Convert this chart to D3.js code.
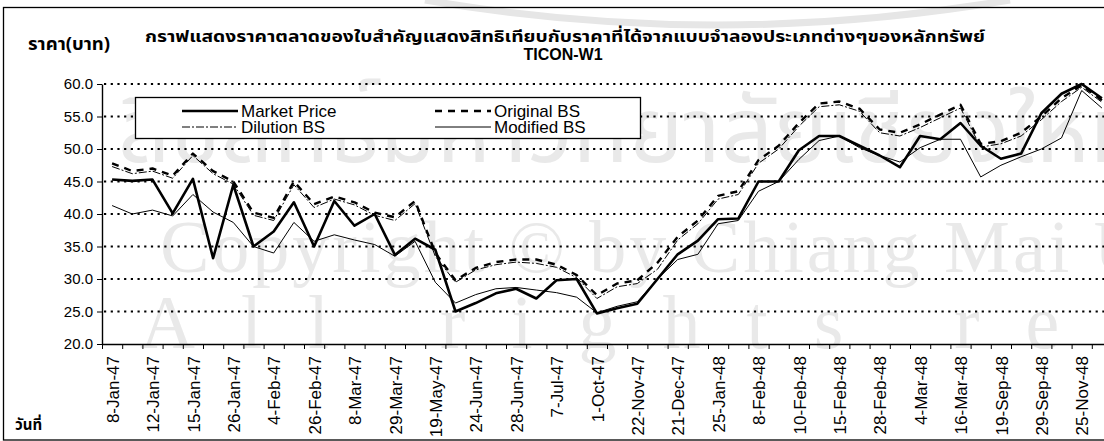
<!DOCTYPE html>
<html>
<head>
<meta charset="utf-8">
<script src="https://cdn.jsdelivr.net/npm/d3@7"></script>
<style>
  body { margin: 0; background: #fff; }
  svg { display: block; font-family: "Liberation Sans", Arial, sans-serif; }
</style>
</head>
<body>
<div id="chart"></div>
<script>
// tick labels, one per two categories
const dateLabels = ["8-Jan-47", "12-Jan-47", "15-Jan-47", "26-Jan-47", "4-Feb-47", "26-Feb-47",
    "8-Mar-47", "29-Mar-47", "19-May-47", "24-Jun-47", "28-Jun-47", "7-Jul-47", "1-Oct-47",
    "22-Nov-47", "21-Dec-47", "25-Jan-48", "8-Feb-48", "10-Feb-48", "15-Feb-48", "28-Feb-48",
    "4-Mar-48", "16-Mar-48", "19-Sep-48", "29-Sep-48", "25-Nov-48"];

const marketPrice = [45.3, 45.1, 45.3, 40.1, 45.4, 33.2, 44.5, 35.0, 37.3, 41.8,
    35.0, 42.0, 38.2, 40.0, 33.7, 36.2, 34.5, 25.0, 26.3, 27.8,
    28.5, 27.0, 29.8, 30.0, 24.7, 25.5, 26.2, 30.0, 33.8, 35.9,
    39.2, 39.3, 45.0, 45.0, 49.8, 52.0, 52.0, 50.5, 49.0, 47.2,
    52.0, 51.5, 54.0, 50.5, 48.5, 49.3, 55.5, 58.5, 60.0, 57.8];

const originalBS = [47.8, 46.6, 47.0, 45.9, 49.3, 46.6, 45.0, 40.2, 39.4, 45.0,
    41.5, 42.7, 41.8, 40.2, 39.5, 42.0, 34.0, 29.8, 31.7, 32.6,
    33.0, 33.0, 32.2, 30.6, 27.5, 29.3, 29.8, 32.5, 36.5, 39.0,
    42.8, 43.5, 48.3, 50.5, 54.0, 57.0, 57.3, 56.2, 53.0, 52.5,
    53.8, 55.3, 56.8, 50.8, 51.2, 52.5, 55.0, 57.8, 59.8, 57.5];

const dilutionBS = [47.3, 46.2, 46.6, 45.5, 49.0, 46.2, 44.6, 39.8, 39.0, 44.5,
    41.0, 42.3, 41.4, 39.8, 39.0, 41.6, 33.5, 29.5, 31.4, 32.2,
    32.6, 32.4, 31.8, 30.2, 27.0, 28.8, 29.3, 31.5, 36.0, 38.5,
    42.3, 43.0, 47.8, 50.0, 53.5, 56.5, 56.8, 55.8, 52.5, 52.0,
    53.3, 54.8, 56.3, 50.3, 50.8, 52.0, 54.5, 57.3, 59.5, 57.2];

const modifiedBS = [41.3, 40.0, 40.6, 39.7, 43.0, 40.3, 38.7, 35.0, 34.0, 38.7,
    35.8, 36.8, 36.0, 35.3, 33.5, 35.8, 29.5, 26.3, 27.6, 28.5,
    28.7, 28.3, 27.9, 27.2, 24.8, 25.8, 26.5, 30.0, 33.0, 33.8,
    38.5, 39.0, 43.5, 45.0, 48.4, 51.3, 52.0, 50.2, 49.0, 48.0,
    50.2, 51.5, 51.5, 45.7, 47.5, 48.8, 50.0, 51.7, 59.0, 56.3];

const yTicks = [20, 25, 30, 35, 40, 45, 50, 55, 60];

const series = [
    {name: "Modified BS", values: modifiedBS, width: 1, dash: null},
    {name: "Dilution BS", values: dilutionBS, width: 1, dash: "8,2,2,2"},
    {name: "Original BS", values: originalBS, width: 2.4, dash: "7,6"},
    {name: "Market Price", values: marketPrice, width: 2.6, dash: null}
];

const W = 1104, H = 441;
const plot = {left: 102, top: 84, bottom: 344, right: 1112};
const nCat = marketPrice.length;

const svg = d3.select("#chart").append("svg")
    .attr("width", W)
    .attr("height", H);

svg.append("rect").attr("width", W).attr("height", H).attr("fill", "#fff");

// faint scan watermark
const wm = svg.append("g").attr("fill", "#e9e9e9").style("font-family", "'Liberation Serif', 'DejaVu Serif', serif");
svg.append("path")
    .attr("d", "M425,0 Q715,50 1010,0")
    .attr("fill", "none").attr("stroke", "#e6e6e6").attr("stroke-width", 7);
wm.append("text").attr("x", 118).attr("y", 162)
    .style("font-size", "92px")
    .style("font-family", "'Noto Sans Thai', 'Noto Serif Thai', 'Loma', 'Garuda', sans-serif")
    .text("ลิขสิทธิ์มหาวิทยาลัยเชียงใหม่");
wm.append("text").attr("x", 160).attr("y", 272)
    .style("font-size", "74px")
    .style("letter-spacing", "3px")
    .text("Copyright © by Chiang Mai University");
wm.append("text").attr("x", 140).attr("y", 348)
    .style("font-size", "76px")
    .style("letter-spacing", "46px")
    .text("All rights reserved");

// frame
svg.append("rect")
    .attr("x", 3.5).attr("y", 7.5)
    .attr("width", W + 10).attr("height", 432.5)
    .attr("fill", "none").attr("stroke", "#000").attr("stroke-width", 1.3);

const x = d3.scaleLinear().domain([0, nCat]).range([plot.left, plot.right]);
const y = d3.scaleLinear().domain([20, 60]).range([plot.bottom, plot.top]);

// dotted gridlines
svg.append("g").selectAll("line")
    .data(yTicks.filter(d => d > 20))
    .join("line")
    .attr("x1", plot.left + 2).attr("x2", W)
    .attr("y1", d => y(d)).attr("y2", d => y(d))
    .attr("stroke", "#000").attr("stroke-width", 2.2)
    .attr("stroke-dasharray", "2.2,4.5");

// y axis
const yAxis = svg.append("g")
    .attr("transform", `translate(${plot.left},0)`)
    .call(d3.axisLeft(y).tickValues(yTicks).tickFormat(d3.format(".1f")).tickSize(5).tickSizeOuter(0).tickPadding(4));
yAxis.selectAll("text").style("font-size", "15px").attr("fill", "#000");

// x axis: boundary ticks
svg.append("g")
    .attr("transform", `translate(0,${plot.bottom})`)
    .call(d3.axisBottom(x).tickValues(d3.range(nCat + 1)).tickFormat("").tickSize(5).tickSizeOuter(0));

// x axis: rotated labels at every second category
const xLab = svg.append("g")
    .attr("transform", `translate(0,${plot.bottom})`)
    .call(d3.axisBottom(x)
        .tickValues(dateLabels.map((d, i) => i * 2 + 0.5))
        .tickFormat((d, i) => dateLabels[i])
        .tickSize(0));
xLab.select(".domain").remove();
xLab.selectAll("text")
    .attr("y", 0).attr("x", -12).attr("dy", "0.36em")
    .attr("transform", "rotate(-90)")
    .style("text-anchor", "end")
    .style("font-size", "17px")
    .attr("fill", "#000");

svg.selectAll(".domain").attr("stroke-width", 1.4);

// series lines
const line = d3.line()
    .x((d, i) => x(i + 0.5))
    .y(d => y(d));

svg.append("g").selectAll("path")
    .data(series)
    .join("path")
    .attr("d", d => line(d.values))
    .attr("fill", "none")
    .attr("stroke", "#000")
    .attr("stroke-width", d => d.width)
    .attr("stroke-dasharray", d => d.dash)
    .attr("stroke-linejoin", "round");

// legend
const legend = svg.append("g");
legend.append("rect")
    .attr("x", 135.5).attr("y", 97.5).attr("width", 505).attr("height", 41)
    .attr("fill", "#fff").attr("stroke", "#000").attr("stroke-width", 1.3);

const legendItems = [
    {s: series[3], lx: 182, ly: 111},
    {s: series[1], lx: 182, ly: 127},
    {s: series[2], lx: 435, ly: 111},
    {s: series[0], lx: 435, ly: 127}
];
legendItems.forEach(d => {
    legend.append("line")
        .attr("x1", d.lx).attr("x2", d.lx + 56)
        .attr("y1", d.ly).attr("y2", d.ly)
        .attr("stroke", "#000")
        .attr("stroke-width", d.s.width)
        .attr("stroke-dasharray", d.s.dash);
    legend.append("text")
        .attr("x", d.lx + 59).attr("y", d.ly + 6)
        .style("font-size", "17px")
        .text(d.s.name);
});

// titles
const thaiFont = "'Noto Sans Thai', 'Loma', 'Garuda', 'Tlwg Typo', 'Liberation Sans', sans-serif";
svg.append("text")
    .attr("x", 565).attr("y", 42)
    .attr("text-anchor", "middle")
    .style("font-family", thaiFont)
    .style("font-size", "16px").style("font-weight", "bold")
    .attr("textLength", 840).attr("lengthAdjust", "spacingAndGlyphs")
    .text("กราฟแสดงราคาตลาดของใบสำคัญแสดงสิทธิเทียบกับราคาที่ได้จากแบบจำลองประเภทต่างๆของหลักทรัพย์");
svg.append("text")
    .attr("x", 563).attr("y", 60)
    .attr("text-anchor", "middle")
    .style("font-size", "16px").style("font-weight", "bold")
    .text("TICON-W1");
svg.append("text")
    .attr("x", 69).attr("y", 50)
    .attr("text-anchor", "middle")
    .style("font-family", thaiFont)
    .style("font-size", "17px").style("font-weight", "bold")
    .attr("textLength", 82).attr("lengthAdjust", "spacingAndGlyphs")
    .text("ราคา(บาท)");
svg.append("text")
    .attr("x", 15).attr("y", 430)
    .style("font-family", thaiFont)
    .style("font-size", "15px").style("font-weight", "bold")
    .text("วันที่");
</script>
</body>
</html>
